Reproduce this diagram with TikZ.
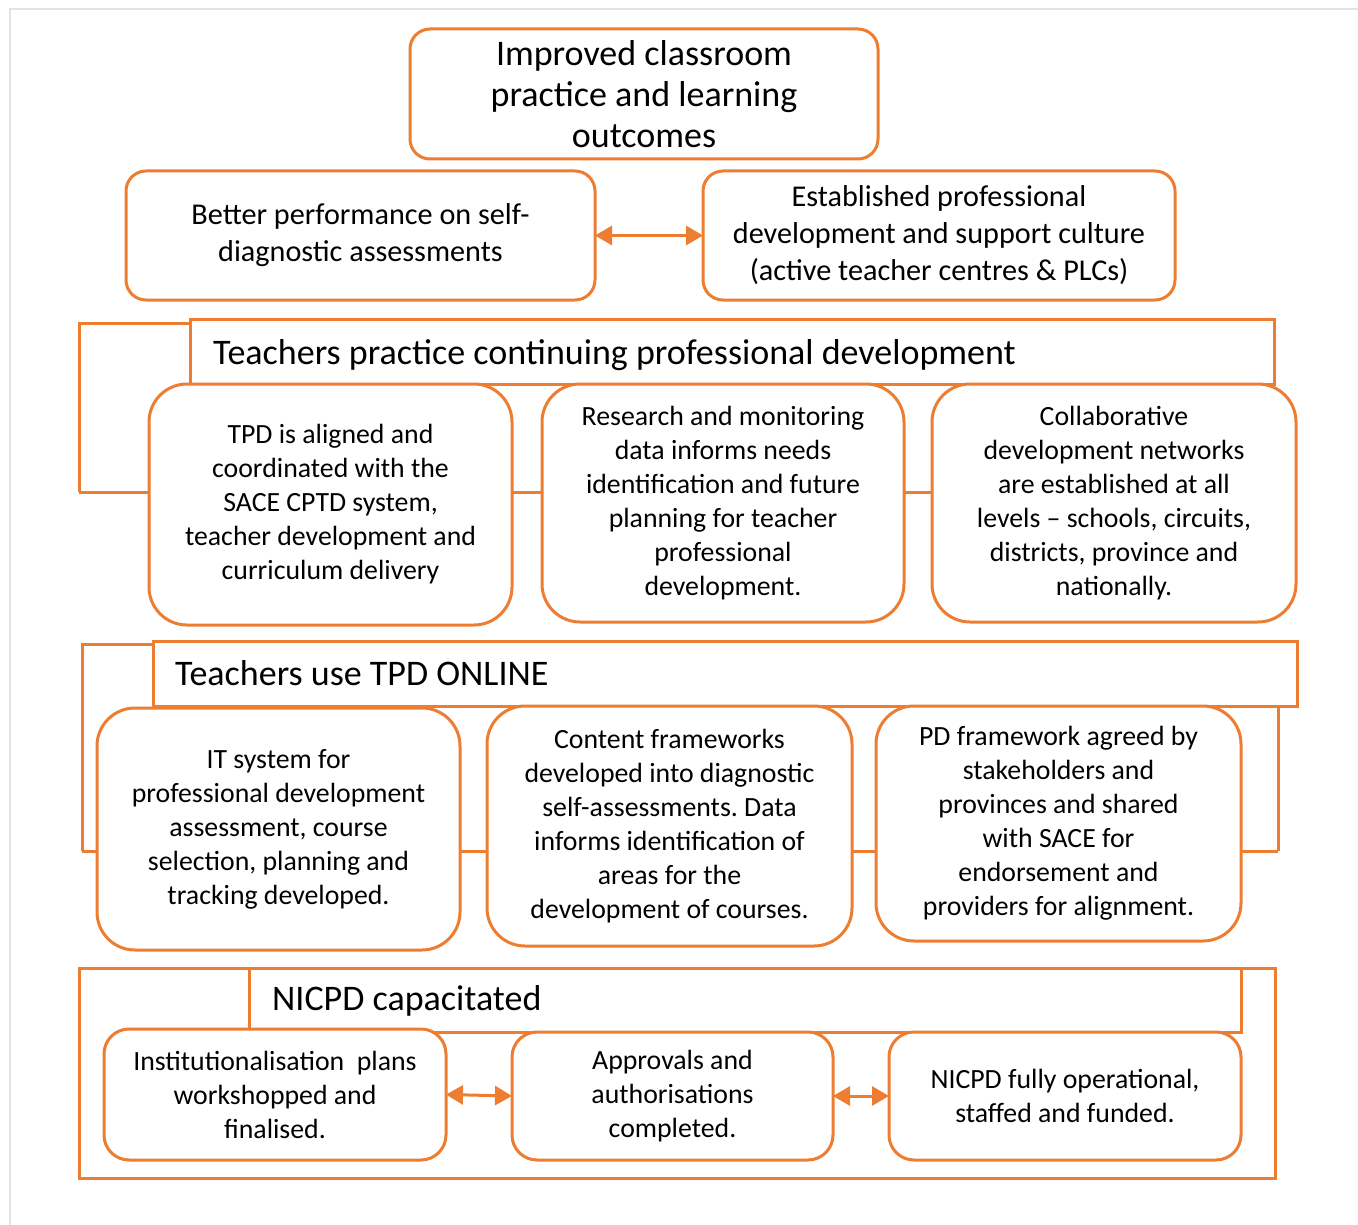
\documentclass[tikz,border=0pt]{standalone}
\usepackage{fontspec}
\setmainfont{Carlito}
\frenchspacing
\usetikzlibrary{arrows.meta,calc}
\definecolor{tpdorange}{HTML}{ED7D31}
\definecolor{pageline}{HTML}{E3E3E3}
\begin{document}
\begin{tikzpicture}[x=1pt,y=-1pt,
  box/.style={draw=tpdorange, line width=3pt, fill=white, rounded corners=#1,
    inner sep=0pt, outer sep=0pt, align=center, text=black},
  box/.default=20pt,
  titlebox/.style={draw=tpdorange, line width=3pt, fill=white, inner sep=0pt, outer sep=0pt},
  frameline/.style={draw=tpdorange, line width=3pt},
  twoway/.style={draw=tpdorange, fill=tpdorange, line width=3pt,
    {Triangle[length=17pt,width=19pt]}-{Triangle[length=17pt,width=19pt]}},
  bigtxt/.style={font=\fontsize{36}{41}\selectfont},
  midtxt/.style={font=\fontsize{30.2}{37}\selectfont},
  smalltxt/.style={font=\fontsize{27.8}{34}\selectfont},
  headtxt/.style={font=\fontsize{36}{41}\selectfont, anchor=base west, inner sep=0pt, text=black},
]
\useasboundingbox (0,0) rectangle (1358,1225);
\fill[white] (0,0) rectangle (1358,1225);
% page edge
\draw[pageline, line width=2pt] (10,1225) -- (10,9) -- (1358,9);

% ---- outcome level ----
\node[box, bigtxt, minimum width=468pt, minimum height=130pt] (goal) at (644,94)
  {Improved classroom\\practice and learning\\outcomes};
\node[box, midtxt, minimum width=469pt, minimum height=129pt] (perf) at (360.5,235.5)
  {Better performance on self-\\diagnostic assessments};
\node[box, midtxt, minimum width=472pt, minimum height=129pt] (culture) at (939,235.5)
  {Established professional\\development and support culture\\(active teacher centres \& PLCs)};
\draw[twoway] (perf.east) -- (culture.west);

% ---- continuing professional development ----
\node[titlebox, minimum width=1084pt, minimum height=65pt] (cpd) at (732,351.5) {};
\node[headtxt] (cpdtxt) at (213,364) {Teachers practice continuing professional development};
\coordinate (cpdcorner) at (79,323);
\coordinate (cpdfoot) at (79,492);
\draw[frameline] (cpd.north west |- cpdcorner) -- (cpdcorner) -- (cpdfoot);
\node[box=38pt, smalltxt, minimum width=363pt, minimum height=241pt] (cpdA) at (330.5,504.5)
  {TPD is aligned and\\coordinated with the\\SACE CPTD system,\\teacher development and\\curriculum delivery};
\node[box=38pt, smalltxt, minimum width=362pt, minimum height=238pt] (cpdB) at (723,503)
  {Research and monitoring\\data informs needs\\identification and future\\planning for teacher\\professional\\development.};
\node[box=38pt, smalltxt, minimum width=364pt, minimum height=238pt] (cpdC) at (1114,503)
  {Collaborative\\development networks\\are established at all\\levels -- schools, circuits,\\districts, province and\\nationally.};
\draw[frameline] (cpdfoot) -- (cpdA.west |- cpdfoot);
\draw[frameline] (cpdA.east |- cpdfoot) -- (cpdB.west |- cpdfoot);
\draw[frameline] (cpdB.east |- cpdfoot) -- (cpdC.west |- cpdfoot);

% ---- TPD online ----
\node[titlebox, minimum width=1144pt, minimum height=65pt] (onl) at (725,673.5) {};
\node[headtxt] (onltxt) at (175,685) {Teachers use TPD ONLINE};
\coordinate (onlcorner) at (82,644);
\coordinate (onlfoot) at (82,851);
\coordinate (onlright) at (1278,851);
\draw[frameline] (onl.north west |- onlcorner) -- (onlcorner) -- (onlfoot);
\draw[frameline] (onl.south -| onlright) -- (onlright);
\node[box=38pt, smalltxt, minimum width=363pt, minimum height=242pt] (onlA) at (278.5,829)
  {IT system for\\professional development\\assessment, course\\selection, planning and\\tracking developed.};
\node[box=38pt, smalltxt, minimum width=365pt, minimum height=240pt] (onlB) at (669.5,826)
  {Content frameworks\\developed into diagnostic\\self-assessments. Data\\informs identification of\\areas for the\\development of courses.};
\node[box=38pt, smalltxt, minimum width=365pt, minimum height=235pt] (onlC) at (1058.5,823.5)
  {PD framework agreed by\\stakeholders and\\provinces and shared\\with SACE for\\endorsement and\\providers for alignment.};
\draw[frameline] (onlfoot) -- (onlA.west |- onlfoot);
\draw[frameline] (onlA.east |- onlfoot) -- (onlB.west |- onlfoot);
\draw[frameline] (onlB.east |- onlfoot) -- (onlC.west |- onlfoot);
\draw[frameline] (onlC.east |- onlright) -- (onlright);

% ---- NICPD ----
\node[titlebox, fill=none, minimum width=1196pt, minimum height=210pt] (nic) at (677,1073) {};
\node[titlebox, minimum width=992pt, minimum height=64pt] (nichead) at (745,1000) {};
\node[headtxt] (nictxt) at (272,1010) {NICPD capacitated};
\node[box=25pt, smalltxt, minimum width=342pt, minimum height=131pt] (nicA) at (275,1094.5)
  {Institutionalisation\ \ plans\\workshopped and\\finalised.};
\node[box=25pt, smalltxt, minimum width=321pt, minimum height=128pt] (nicB) at (672.5,1096)
  {Approvals and\\authorisations\\completed.};
\node[box=25pt, smalltxt, minimum width=352pt, minimum height=128pt] (nicC) at (1065,1096)
  {NICPD fully operational,\\staffed and funded.};
\draw[twoway] (nicA.east) -- (nicB.west);
\draw[twoway] (nicB.east) -- (nicC.west);
\end{tikzpicture}
\end{document}
